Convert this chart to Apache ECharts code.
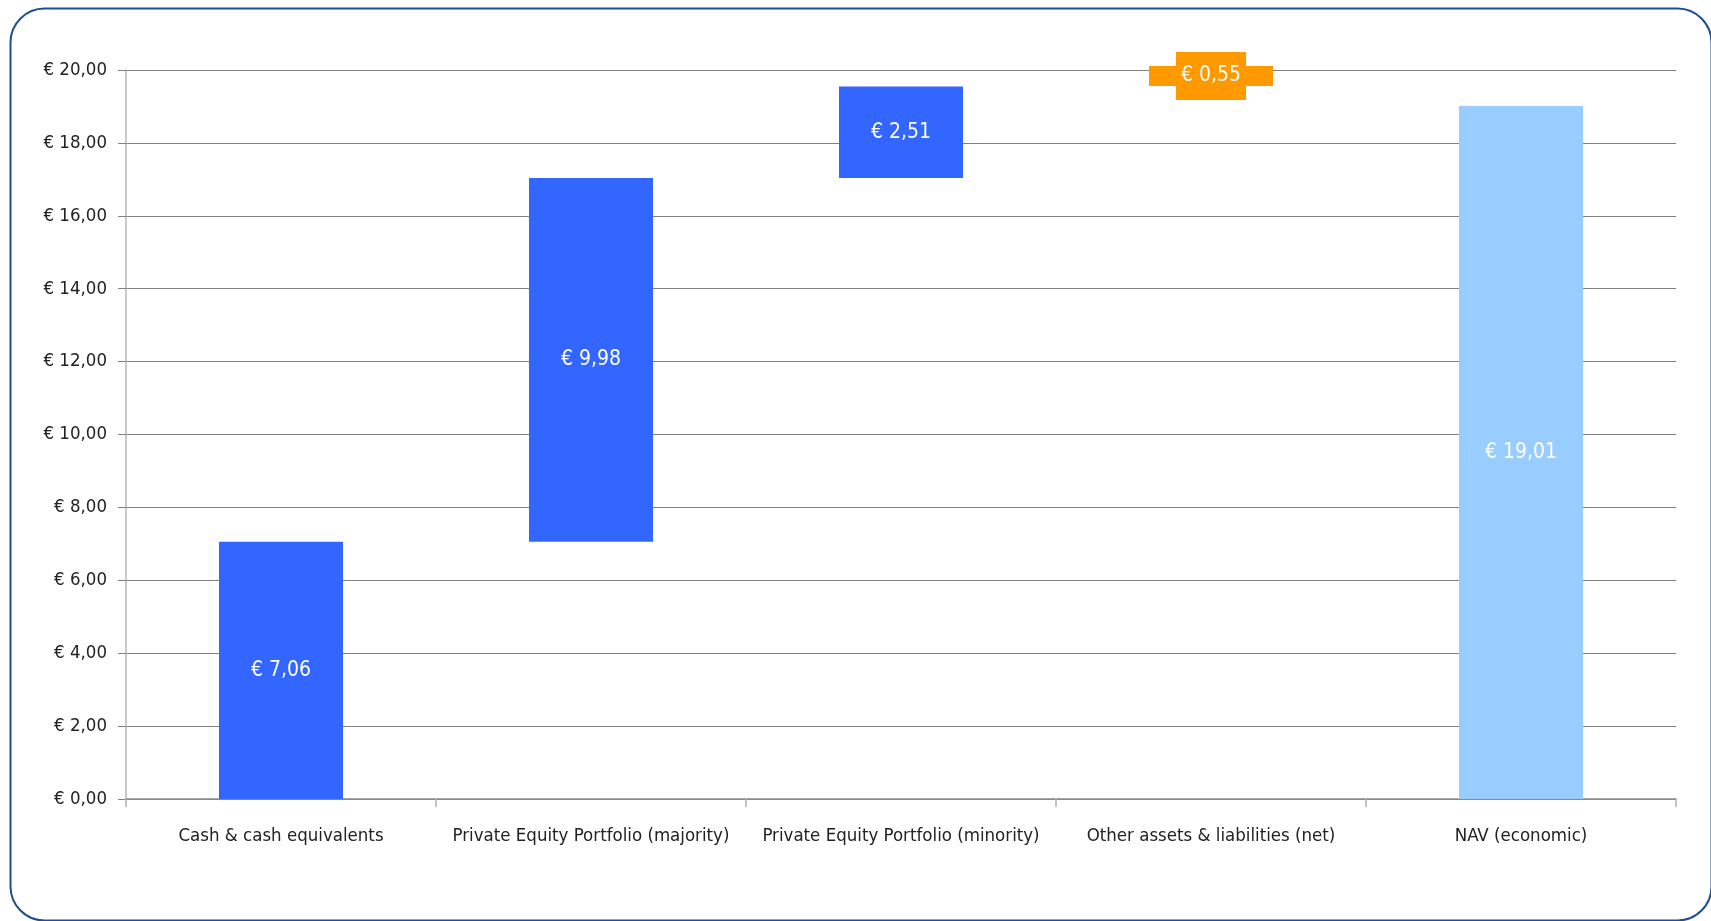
<!DOCTYPE html>
<html>
<head>
<meta charset="utf-8">
<script src="https://cdn.jsdelivr.net/npm/echarts@6/dist/echarts.min.js"></script>
<style>
html,body{margin:0;padding:0;background:#fff;}
#chart{width:1711px;height:921px;}
</style>
</head>
<body>
<div id="chart"></div>
<script>
const categories = ['Cash & cash equivalents', 'Private Equity Portfolio (majority)', 'Private Equity Portfolio (minority)', 'Other assets & liabilities (net)', 'NAV (economic)'];
const baseValues = [0, 7.06, 17.04, 19.56, 0];
const barValues = [7.06, 9.98, 2.51, 0.55, 19.01];
const yTicks = { min: 0, max: 20, interval: 2 };
const barColors = ['#3366ff', '#3366ff', '#3366ff', '#ff9900', '#99ccff'];

const FONT = "'Liberation Sans Narrow', 'DejaVu Sans Condensed', 'Arial Narrow', sans-serif";
const fmt = v => '€ ' + v.toFixed(2).replace('.', ',');

const chart = echarts.init(document.getElementById('chart'));
chart.setOption({
  animation: false,
  graphic: [{
    type: 'rect', left: 8, top: 6, z: -10,
    shape: { width: 1701, height: 912, r: 34 },
    style: { fill: 'none', stroke: '#1f4e96', lineWidth: 2 }
  }],
  grid: { left: 126, right: 35, top: 70, bottom: 122 },
  xAxis: {
    type: 'category', data: categories,
    axisLine: { lineStyle: { color: '#8c8c8c', width: 1.5 } },
    axisTick: { show: true, length: 8, lineStyle: { color: '#b0b0b0', width: 1.5 } },
    axisLabel: { color: '#222', fontFamily: FONT, fontSize: 18.5, margin: 28, interval: 0 }
  },
  yAxis: {
    type: 'value', min: yTicks.min, max: yTicks.max, interval: yTicks.interval,
    axisLine: { show: true, lineStyle: { color: '#b8b8b8', width: 1.5 } },
    axisTick: { show: true, length: 8, lineStyle: { color: '#808080' } },
    splitLine: { lineStyle: { color: '#808080', width: 1.2 } },
    axisLabel: { color: '#222', fontFamily: FONT, fontSize: 18.5, margin: 19, formatter: v => fmt(v) }
  },
  series: [
    {
      type: 'bar', stack: 'wf', data: baseValues, barWidth: 124, clip: false,
      itemStyle: { color: 'transparent' }, silent: true
    },
    {
      type: 'bar', stack: 'wf', barWidth: 124, clip: false,
      data: barValues.map((v, i) => i === 3 ? {
        value: v,
        label: { backgroundColor: '#ff9900', padding: [14, 5, 13, 5] }
      } : v),
      itemStyle: { color: p => barColors[p.dataIndex] },
      label: {
        show: true, position: 'inside', color: '#fff', fontFamily: FONT, fontSize: 21,
        formatter: p => fmt(p.value)
      }
    }
  ]
});
</script>
</body>
</html>
